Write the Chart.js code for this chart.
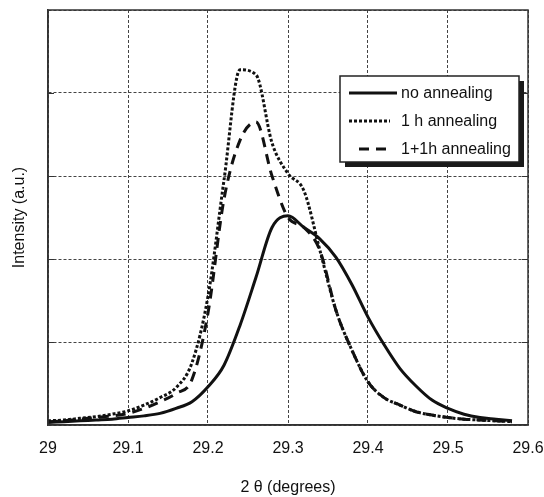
<!DOCTYPE html>
<html>
<head>
<meta charset="utf-8">
<script src="https://cdn.jsdelivr.net/npm/chart.js@4/dist/chart.umd.min.js"></script>
<style>
    html, body { margin: 0; padding: 0; background: #fff; }
    #wrap { width: 544px; height: 497px; }
</style>
</head>
<body>
<div id="wrap"><canvas id="xrd"></canvas></div>
<script>
// 2 theta positions (degrees)
const twoTheta = [29.00, 29.02, 29.04, 29.06, 29.08, 29.10, 29.12, 29.14, 29.16, 29.18,
                  29.20, 29.22, 29.24, 29.26, 29.28, 29.30, 29.32, 29.34, 29.36, 29.38,
                  29.40, 29.42, 29.44, 29.46, 29.48, 29.50, 29.52, 29.54, 29.56, 29.58];

// Intensity (a.u.)
const noAnnealing = [0.03, 0.04, 0.05, 0.06, 0.07, 0.09, 0.11, 0.14, 0.20, 0.28,
                     0.46, 0.72, 1.20, 1.78, 2.38, 2.52, 2.38, 2.24, 2.02, 1.69,
                     1.30, 0.97, 0.68, 0.47, 0.30, 0.20, 0.13, 0.09, 0.07, 0.05];
const oneHour = [0.05, 0.06, 0.08, 0.10, 0.13, 0.17, 0.24, 0.33, 0.45, 0.75,
                 1.55, 2.95, 4.28, 4.22, 3.40, 3.03, 2.82, 2.10, 1.38, 0.90,
                 0.52, 0.33, 0.24, 0.16, 0.12, 0.09, 0.07, 0.06, 0.05, 0.04];
const twoSteps = [0.04, 0.05, 0.07, 0.09, 0.11, 0.14, 0.20, 0.28, 0.38, 0.55,
                  1.35, 2.72, 3.43, 3.65, 3.00, 2.50, 2.38, 2.10, 1.38, 0.90,
                  0.52, 0.33, 0.24, 0.16, 0.12, 0.09, 0.07, 0.06, 0.05, 0.04];

const seriesNames = ['no annealing', '1 h annealing', '1+1h annealing'];
const xTicks = [29, 29.1, 29.2, 29.3, 29.4, 29.5, 29.6];
const yGrid = [1, 2, 3, 4];

const FONT = 'Arial, "Liberation Sans", Helvetica, sans-serif';
const INK = '#111';

function toPoints(ys) {
    return twoTheta.map((x, i) => ({ x: x, y: ys[i] }));
}

// Boxed legend with drop shadow, like the original figure
const boxLegend = {
    id: 'boxLegend',
    afterDraw(chart) {
        const ctx = chart.ctx;
        const bx = 340, by = 76, bw = 179, bh = 86;
        ctx.save();
        ctx.fillStyle = '#1a1a1a';
        ctx.fillRect(bx + 5, by + 5, bw, bh);
        ctx.fillStyle = '#fff';
        ctx.fillRect(bx, by, bw, bh);
        ctx.strokeStyle = '#222';
        ctx.lineWidth = 1.5;
        ctx.strokeRect(bx, by, bw, bh);

        const rows = [93, 121, 149];
        const samples = [[349, 397], [349, 390], [359, 393]];
        chart.data.datasets.forEach((ds, i) => {
            ctx.strokeStyle = INK;
            ctx.lineWidth = 3;
            ctx.setLineDash(ds.borderDash || []);
            ctx.beginPath();
            ctx.moveTo(samples[i][0], rows[i]);
            ctx.lineTo(samples[i][1], rows[i]);
            ctx.stroke();
            ctx.setLineDash([]);
            ctx.fillStyle = INK;
            ctx.font = '16px ' + FONT;
            ctx.textBaseline = 'middle';
            ctx.fillText(ds.label, 401, rows[i] + 1);
        });
        ctx.restore();
    }
};

// Solid plot frame with small inward ticks on both sides
const frame = {
    id: 'frame',
    afterDatasetsDraw(chart) {
        const { ctx, chartArea: a, scales } = chart;
        ctx.save();
        ctx.strokeStyle = '#333';
        ctx.lineWidth = 1.5;
        ctx.setLineDash([]);
        ctx.strokeRect(a.left, a.top, a.right - a.left, a.bottom - a.top);
        ctx.lineWidth = 1;
        yGrid.forEach(v => {
            const y = Math.round(scales.y.getPixelForValue(v)) + 0.5;
            ctx.beginPath();
            ctx.moveTo(a.left, y);
            ctx.lineTo(a.left + 6, y);
            ctx.moveTo(a.right - 6, y);
            ctx.lineTo(a.right, y);
            ctx.stroke();
        });
        ctx.restore();
    }
};

new Chart(document.getElementById('xrd'), {
    type: 'line',
    data: {
        datasets: [
            {
                label: seriesNames[0],
                data: toPoints(noAnnealing),
                borderColor: INK,
                borderWidth: 3,
                pointRadius: 0,
                cubicInterpolationMode: 'monotone',
            },
            {
                label: seriesNames[1],
                data: toPoints(oneHour),
                borderColor: INK,
                borderWidth: 3,
                borderDash: [3, 2],
                pointRadius: 0,
                cubicInterpolationMode: 'monotone',
            },
            {
                label: seriesNames[2],
                data: toPoints(twoSteps),
                borderColor: INK,
                borderWidth: 3,
                borderDash: [10, 7],
                pointRadius: 0,
                cubicInterpolationMode: 'monotone',
            },
        ]
    },
    options: {
        responsive: true,
        maintainAspectRatio: false,
        animation: false,
        layout: { padding: { top: 10, right: 16, left: 0, bottom: 0 } },
        plugins: {
            legend: { display: false },
            tooltip: { enabled: false },
        },
        scales: {
            x: {
                type: 'linear',
                min: 29,
                max: 29.6,
                afterBuildTicks: (scale) => { scale.ticks = xTicks.map(v => ({ value: v })); },
                afterFit: (scale) => {
                    scale.height = 72;
                    scale.paddingLeft = 0;
                    scale.paddingRight = 0;
                },
                ticks: {
                    color: INK,
                    font: { family: FONT, size: 16 },
                    padding: 14,
                    maxRotation: 0,
                    callback: (v) => String(Number(v.toFixed(1))),
                },
                grid: {
                    color: '#444',
                    lineWidth: 1,
                    drawTicks: false,
                },
                border: { display: true, color: '#333', width: 1.5, dash: [3, 2] },
                title: {
                    display: true,
                    text: '2 θ (degrees)',
                    color: INK,
                    font: { family: FONT, size: 16 },
                    padding: { top: 0, bottom: 0 },
                },
            },
            y: {
                min: 0,
                max: 5,
                afterFit: (scale) => { scale.width = 48; },
                ticks: { display: false, stepSize: 1 },
                grid: {
                    color: '#444',
                    lineWidth: 1,
                    drawTicks: false,
                },
                border: { display: true, color: '#333', width: 1.5, dash: [3, 2] },
                title: {
                    display: true,
                    text: 'Intensity (a.u.)',
                    color: INK,
                    font: { family: FONT, size: 16 },
                    padding: { top: 10, bottom: 0 },
                },
            },
        },
    },
    plugins: [frame, boxLegend]
});
</script>
</body>
</html>
